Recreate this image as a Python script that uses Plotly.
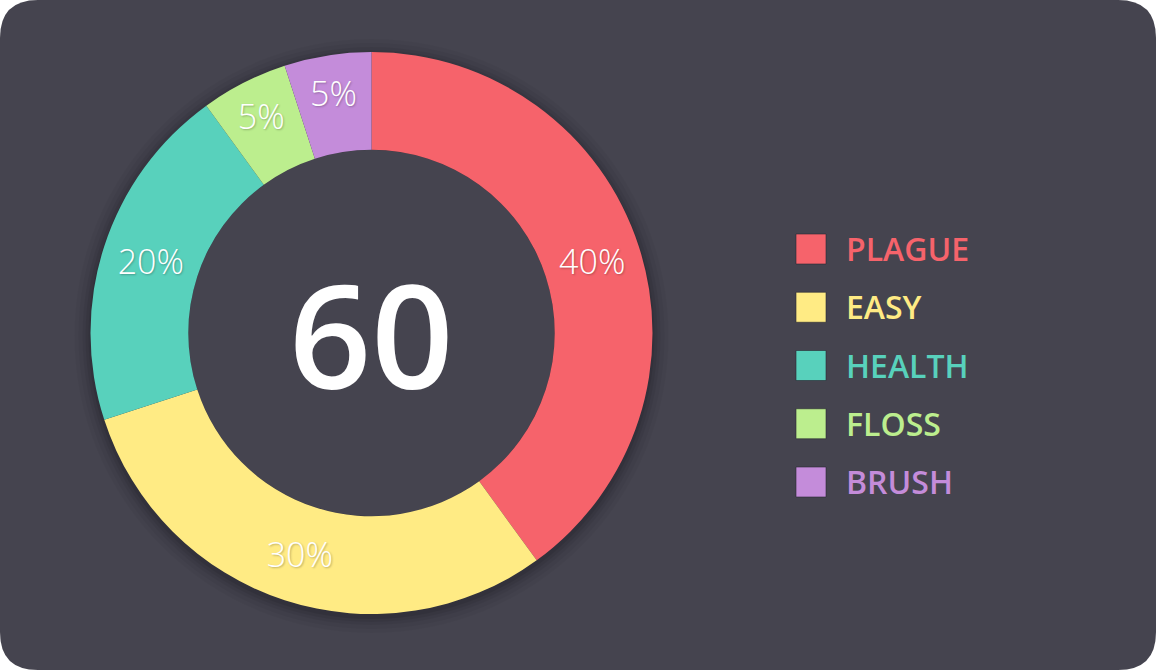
import plotly.graph_objects as go

categories = ["PLAGUE", "EASY", "HEALTH", "FLOSS", "BRUSH"]
values = [40, 30, 20, 5, 5]
colors = ["#F6636B", "#FFEB84", "#58D1BC", "#BCEE8E", "#C48CDA"]
center_value = "60"

W, H = 1156, 670
BG = "#45444F"

fig = go.Figure()

# Donut
cx, cy, R = 371.5, 333, 281
HOLE = 0.652
fig.add_trace(go.Pie(
    labels=categories, values=values, sort=False, direction="clockwise",
    rotation=0, hole=HOLE,
    marker=dict(colors=colors, line=dict(width=0)),
    texttemplate="%{percent:.0%}", textposition="inside",
    insidetextorientation="horizontal",
    textfont=dict(family="Open Sans", size=34, color="white", weight=300,
                  shadow="1px 1px 2px rgba(0,0,0,0.25)"),
    domain=dict(x=[(cx - R) / W, (cx + R) / W],
                y=[(H - cy - R) / H, (H - cy + R) / H]),
    showlegend=False, hoverinfo="label+percent",
))

# Custom legend (squares + labels)
idx = list(range(len(categories)))
fig.add_trace(go.Scatter(
    x=[0] * len(categories), y=idx, mode="markers",
    marker=dict(symbol="square", size=30, color=colors,
                line=dict(width=1, color="rgba(40,40,50,0.6)")),
    showlegend=False, hoverinfo="skip",
))
fig.add_trace(go.Scatter(
    x=[35] * len(categories), y=idx, mode="text", text=categories,
    textposition="middle right", yaxis="y2",
    textfont=dict(family="Open Sans", size=32, color=colors, weight=600),
    showlegend=False, hoverinfo="skip",
))

# y axis: index 0 -> 249 px, spacing 58.25 px
sp = 58.25
ymin = -249 / sp
ymax = ymin + H / sp
shift = 4 / sp
fig.update_layout(
    width=W, height=H, margin=dict(l=0, r=0, t=0, b=0),
    paper_bgcolor="white", plot_bgcolor="rgba(0,0,0,0)",
    xaxis=dict(domain=[0, 1], range=[-811, W - 811], visible=False, fixedrange=True),
    yaxis=dict(domain=[0, 1], range=[ymax, ymin], visible=False, fixedrange=True),
    yaxis2=dict(domain=[0, 1], range=[ymax - shift, ymin - shift], overlaying="y",
                visible=False, fixedrange=True),
)

# background rounded rectangle
r = 38
rx, ry = r / W, r / H
path = (f"M {rx},0 L {1-rx},0 Q 1,0 1,{ry} L 1,{1-ry} Q 1,1 {1-rx},1 "
        f"L {rx},1 Q 0,1 0,{1-ry} L 0,{ry} Q 0,0 {rx},0 Z")
shapes = [dict(type="path", path=path, xref="paper", yref="paper",
               fillcolor=BG, line=dict(width=0), layer="below")]
# soft shadow around donut
for dr, op in [(16, 0.03), (12, 0.04), (8, 0.05), (5, 0.06), (2, 0.08)]:
    rr = R + dr
    shapes.append(dict(type="circle", xref="paper", yref="paper",
                       x0=(cx - rr) / W, x1=(cx + rr) / W,
                       y0=(H - cy - rr - 3) / H, y1=(H - cy + rr - 3) / H,
                       fillcolor=f"rgba(0,0,0,{op})", line=dict(width=0), layer="below"))
# restore the hole area with background colour
rh = R * HOLE
shapes.append(dict(type="circle", xref="paper", yref="paper",
                   x0=(cx - rh) / W, x1=(cx + rh) / W,
                   y0=(H - cy - rh) / H, y1=(H - cy + rh) / H,
                   fillcolor=BG, line=dict(width=0), layer="below"))
fig.update_layout(shapes=shapes)

fig.add_annotation(x=cx / W, y=(H - cy) / H, xref="paper", yref="paper",
                   text=center_value, showarrow=False,
                   font=dict(family="Open Sans", size=144, color="white", weight=600),
                   xanchor="center", yanchor="middle")

fig.write_html("out.html")
